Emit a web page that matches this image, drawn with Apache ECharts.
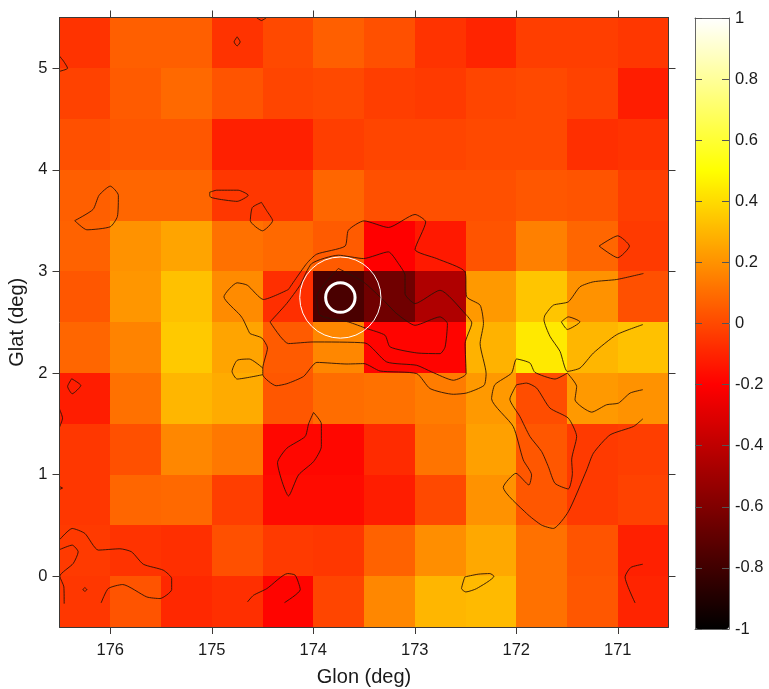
<!DOCTYPE html>
<html><head><meta charset="utf-8">
<style>html,body{margin:0;padding:0;background:#fff}#c{width:769px;height:689px}</style>
<script src="https://cdn.jsdelivr.net/npm/echarts@6/dist/echarts.min.js"></script>
</head><body><div id="c"></div>
<script>
const lonCenters=[176.25,175.75,175.25,174.75,174.25,173.75,173.25,172.75,172.25,171.75,171.25,170.75];
const latCenters=[5.25,4.75,4.25,3.75,3.25,2.75,2.25,1.75,1.25,0.75,0.25,-0.25];
const row1=[-.06,.06,.06,-.06,0,.06,.02,-.06,-.1,-.03,-.03,-.05];
const row2=[-.02,.05,.09,.03,-.01,0,-.03,-.04,-.01,0,-.02,-.12];
const row3=[.02,.04,.04,-.11,-.11,-.03,-.01,-.01,0,0,-.07,-.06];
const row4=[.06,.08,.08,-.05,-.05,.08,.02,.02,.02,.04,.03,-.03];
const row5=[.07,.2,.25,.11,.09,.05,-.2,-.13,.03,.15,.08,-.04];
const row6=[.04,.21,.33,.18,-.07,-.77,-.65,-.45,.22,.34,.2,.02];
const row7=[.08,.16,.35,.25,.05,.17,-.19,-.19,.29,.44,.3,.33];
const row8=[-.12,.11,.3,.27,.04,.1,.11,.14,.22,.01,.22,.2];
const row9=[-.05,.02,.17,.13,-.18,-.18,-.08,.12,.24,.04,-.04,-.03];
const row10=[-.05,.08,.09,-.03,-.17,-.17,-.12,0,.2,.04,-.04,-.02];
const row11=[-.04,-.06,-.07,.02,-.04,-.05,.07,.19,.26,.11,.03,-.11];
const row12=[-.05,.03,-.09,-.07,-.19,-.01,.17,.3,.31,.11,.04,-.1];
const rows=[row1,row2,row3,row4,row5,row6,row7,row8,row9,row10,row11,row12];
const lonTicks=[176,175,174,173,172,171];
const latTicks=[0,1,2,3,4,5];
const barTicks=[-1,-0.8,-0.6,-0.4,-0.2,0,0.2,0.4,0.6,0.8,1];
const hotStops=['#000000','#200000','#400000','#600000','#800000','#9f0000','#bf0000','#df0000','#ff0000','#ff2400','#ff4900','#ff6d00','#ff9200','#ffb600','#ffdb00','#ffff00','#ffff33','#ffff66','#ffff99','#ffffcc','#ffffff'];
const source=[173.733,2.743];
const circleRadii=[[0.4,1],[0.145,3]];

const cA=[[173.753,3.029],[173.506,2.897],[173.309,2.717],[173.178,2.585],[172.997,2.47],[172.751,2.553],[172.678,2.487],[172.701,2.257],[172.751,2.191],[172.98,2.198],[173.243,2.257],[173.293,2.372],[173.473,2.438],[173.654,2.503],[173.933,2.569],[173.966,2.75],[173.753,3.029]];
const cB=[[174.426,2.503],[174.245,2.29],[174,2.306],[173.49,2.296],[173.276,2.109],[172.98,2.076],[172.833,2.011],[172.619,1.929],[172.494,1.994],[172.504,2.29],[172.438,2.493],[172.504,2.585],[172.751,2.815],[172.997,2.684],[173.096,2.782],[173.096,2.963],[173.161,3.078],[173.26,3.193],[173.506,3.127],[173.753,3.16],[174.015,3.078],[174.13,2.865],[174.262,2.684],[174.426,2.503]];
const cC=[[174.245,2.822],[174.065,3.078],[173.966,3.17],[173.687,3.249],[173.654,3.406],[173.5,3.498],[173.26,3.433],[172.997,3.561],[172.892,3.488],[172.997,3.216],[172.783,3.127],[172.504,2.996],[172.488,2.75],[172.356,2.668],[172.323,2.487],[172.356,2.29],[172.297,1.994],[172.317,1.879],[172.488,1.804],[172.619,1.791],[172.849,1.847],[172.98,1.994],[173.342,2.02],[173.5,2.093],[173.668,2.089],[173.964,2.105],[174.095,1.967],[174.26,1.895],[174.365,1.875],[174.497,1.984],[174.497,2.049],[174.451,2.247],[174.507,2.345],[174.622,2.388],[174.64,2.42],[174.69,2.526],[174.72,2.57],[174.88,2.75],[174.75,2.888],[174.65,2.865],[174.49,2.724],[174.245,2.822]];
const cLoopW=[[174.497,2.049],[174.63,2.138],[174.75,2.125],[174.8,2.016],[174.75,1.941],[174.497,1.984]];
const cTL1=[[176.5,5.12],[176.46,5.07],[176.42,5],[176.5,4.97]];
const cTop=[[174.56,5.5],[174.51,5.47],[174.46,5.5]];
const cDiamond1=[[174.75,5.31],[174.72,5.26],[174.75,5.22],[174.78,5.26],[174.75,5.31]];
const cBlob1=[[176.35,3.5],[176.17,3.61],[176.11,3.75],[176,3.84],[175.92,3.75],[175.93,3.54],[176,3.44],[176.23,3.41],[176.35,3.5]];
const cBlob2=[[175.02,3.78],[174.95,3.8],[174.74,3.8],[174.64,3.75],[174.75,3.69],[174.92,3.71],[175.01,3.73],[175.02,3.75],[175.02,3.78]];
const cBlob3=[[174.51,3.68],[174.46,3.6],[174.4,3.5],[174.5,3.4],[174.62,3.5],[174.6,3.63],[174.51,3.68]];
const cLeft1=[[176.38,1.944],[176.29,1.878],[176.375,1.796],[176.42,1.868],[176.38,1.944]];
const cLeft2=[[176.5,1.645],[176.47,1.556],[176.5,1.467]];
const cLeft3=[[176.5,0.882],[176.47,0.868],[176.5,0.855]];
const cBlob4=[[173.997,1.612],[173.92,1.5],[173.92,1.276],[173.997,1.128],[174.145,0.997],[174.243,0.79],[174.352,1.118],[174.26,1.26],[174.08,1.375],[174.046,1.5],[173.997,1.612]];
const cBL1=[[176.497,0.362],[176.375,0.47],[176.25,0.421],[176.118,0.257],[175.905,0.27],[175.79,0.24],[175.674,0.118],[175.477,0.059],[175.395,-0.023],[175.395,-0.132],[175.51,-0.22],[175.64,-0.204],[175.878,-0.082],[176.02,-0.122],[176.09,-0.263]];
const cBL2=[[176.497,0.263],[176.375,0.306],[176.316,0.24],[176.365,0.125],[176.497,0],[176.457,-0.105],[176.454,-0.27]];
const cTiny=[[176.25,-0.112],[176.23,-0.132],[176.25,-0.148],[176.27,-0.132],[176.25,-0.112]];
const cBM=[[174.648,-0.253],[174.589,-0.188],[174.457,-0.122],[174.253,0.026],[174.178,0.01],[174.128,-0.132],[174.283,-0.26]];
const cDiamond2=[[171.184,3.25],[171,3.351],[170.885,3.25],[171,3.135],[171.184,3.25]];
const cR1=[[170.747,2.98],[171.01,2.921],[171.24,2.898],[171.372,2.849],[171.487,2.701],[171.635,2.668],[171.717,2.57],[171.727,2.526],[171.668,2.362],[171.569,2.214],[171.497,2.016],[171.372,2.049],[171.24,2.197],[171.01,2.378],[170.753,2.477]];
const cR2=[[171.497,2],[171.405,1.868],[171.421,1.737],[171.257,1.615],[171.109,1.688],[170.993,1.704],[170.878,1.803],[170.753,1.836]];
const cR3=[[171.497,2],[171.618,1.941],[171.816,2.007],[171.865,2.099],[171.997,2.138],[172.046,2],[172.211,1.885],[172.243,1.747],[172.03,1.474],[171.931,1.145],[171.849,0.997],[171.875,0.898],[172.003,1.013],[172.128,0.875],[171.898,0.618],[171.75,0.503],[171.635,0.47],[171.487,0.635],[171.306,1.046],[171.24,1.211],[171.076,1.391],[170.845,1.474],[170.753,1.549]];
const cInner=[[171.997,1.885],[171.898,1.901],[171.799,1.852],[171.668,1.655],[171.487,1.556],[171.405,1.375],[171.454,1.145],[171.447,1.013],[171.487,0.859],[171.618,0.914],[171.684,1.079],[171.75,1.227],[171.865,1.375],[171.964,1.572],[172.063,1.743],[171.997,1.885]];
const cDiamond3=[[171.556,2.504],[171.487,2.553],[171.372,2.504],[171.497,2.429],[171.556,2.504]];
const cBot=[[172.507,-0.007],[172.375,0.02],[172.26,0.026],[172.22,0],[172.391,-0.122],[172.497,-0.155],[172.539,-0.122],[172.507,-0.007]];
const cBR=[[170.753,0.118],[170.872,0.086],[170.928,-0.007],[170.829,-0.263]];
const contours=[cA,cB,cC,cLoopW,cTL1,cTop,cDiamond1,cBlob1,cBlob2,cBlob3,cLeft1,cLeft2,cLeft3,cBlob4,cBL1,cBL2,cTiny,cBM,cDiamond2,cR1,cR2,cR3,cInner,cDiamond3,cBot,cBR];

const cells=[];
rows.forEach((r,i)=>r.forEach((v,j)=>cells.push([lonCenters[j],latCenters[i],v])));
const FONT='"Liberation Sans",Arial,sans-serif', AX='#3c3836', TXT='#1a1a1a';
const tick={show:true,length:7,lineStyle:{color:AX,width:1}};
const line={show:true,lineStyle:{color:AX,width:1}};
const barLine={show:true,lineStyle:{color:'#666',width:1}};
function xAx(pos,labels){return {type:'value',gridIndex:0,min:170.5,max:176.5,inverse:true,position:pos,z:5,
  axisLine:Object.assign({onZero:false},line),splitLine:{show:false},
  axisTick:Object.assign({customValues:lonTicks},tick),
  axisLabel:{show:labels,customValues:lonTicks,color:TXT,fontFamily:FONT,fontSize:16.5,margin:15},
  name:labels?'Glon (deg)':'',nameLocation:'middle',nameGap:40,nameTextStyle:{color:TXT,fontFamily:FONT,fontSize:20}};}
function yAx(pos,labels){return {type:'value',gridIndex:0,min:-0.5,max:5.5,position:pos,z:5,
  axisLine:Object.assign({onZero:false},line),splitLine:{show:false},
  axisTick:Object.assign({customValues:latTicks},tick),
  axisLabel:{show:labels,customValues:latTicks,color:TXT,fontFamily:FONT,fontSize:16.5,margin:12},
  name:labels?'Glat (deg)':'',nameLocation:'middle',nameGap:28,nameTextStyle:{color:TXT,fontFamily:FONT,fontSize:20}};}
function barAx(pos,labels){return {type:'value',gridIndex:1,min:-1,max:1,position:pos,z:8,
  axisLine:Object.assign({onZero:false},barLine),splitLine:{show:false},
  axisTick:{show:true,inside:true,length:7,customValues:barTicks,lineStyle:{color:'#555',width:1}},
  axisLabel:{show:labels,customValues:barTicks,color:TXT,fontFamily:FONT,fontSize:16.5,margin:6,
    formatter:v=>String(Math.round(v*10)/10)}};}

const chart=echarts.init(document.getElementById('c'),null,{renderer:'canvas'});
chart.setOption({
  animation:false,backgroundColor:'#fff',
  grid:[{left:59.5,right:100.5,top:17.5,height:609.5,outerBoundsMode:'none'},{left:695,width:34,top:18,height:611,outerBoundsMode:'none'}],
  xAxis:[xAx('bottom',true),xAx('top',false),
    {type:'value',gridIndex:1,min:0,max:1,position:'bottom',axisLine:Object.assign({onZero:false},barLine),axisTick:{show:false},axisLabel:{show:false},splitLine:{show:false},z:8},
    {type:'value',gridIndex:1,min:0,max:1,position:'top',axisLine:Object.assign({onZero:false},barLine),axisTick:{show:false},axisLabel:{show:false},splitLine:{show:false},z:8}],
  yAxis:[yAx('left',true),yAx('right',false),barAx('left',false),barAx('right',true)],
  visualMap:{type:'continuous',min:-1,max:1,dimension:2,seriesIndex:0,calculable:false,
    left:695,top:18,itemWidth:34,itemHeight:611,padding:0,text:null,showLabel:false,
    inRange:{color:hotStops},textStyle:{color:'transparent',fontSize:1}},
  series:[
    {type:'custom',xAxisIndex:0,yAxisIndex:0,data:cells,encode:{x:0,y:1},silent:true,z:1,
      renderItem(p,api){
        const c=api.coord([api.value(0),api.value(1)]);
        const s=api.size([0.5,0.5]);
        return {type:'rect',shape:{x:Math.round(c[0]-s[0]/2),y:Math.round(c[1]-s[1]/2),
          width:Math.ceil(s[0])+1,height:Math.ceil(s[1])+1},style:{fill:api.visual('color')}};
      },clip:true},
    ...contours.map(pts=>({type:'line',xAxisIndex:0,yAxisIndex:0,data:pts,showSymbol:false,silent:true,z:3,
      smooth:0.2,lineStyle:{color:'#2a1408',width:0.9},clip:true})),
    {type:'custom',xAxisIndex:0,yAxisIndex:0,silent:true,z:4,encode:{x:0,y:1},
      data:circleRadii.map(r=>[source[0],source[1],r[0],r[1]]),
      renderItem(p,api){
        const c=api.coord([api.value(0),api.value(1)]);
        return {type:'circle',shape:{cx:c[0],cy:c[1],r:api.size([api.value(2),0])[0]},
          style:{fill:'none',stroke:'#fff',lineWidth:api.value(3)}};
      }}
  ]
});
</script></body></html>
